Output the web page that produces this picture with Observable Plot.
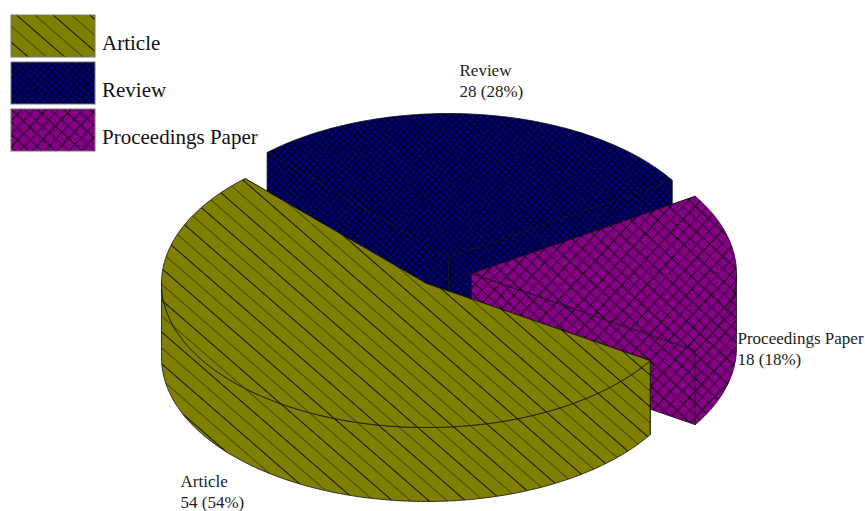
<!DOCTYPE html>
<html>
<head>
<meta charset="utf-8">
<style>
  html, body { margin: 0; padding: 0; background: #fff; }
  svg { display: block; }
</style>
<script src="https://cdn.jsdelivr.net/npm/d3@7"></script>
<script src="https://cdn.jsdelivr.net/npm/@observablehq/plot@0.6"></script>
</head>
<body>
<div id="chart"></div>
<script>
// Document types and their record counts
const categories = ["Article", "Review", "Proceedings Paper"];
const counts = [54, 28, 18];
const patternIds = ["hatch-article", "hatch-review", "hatch-proceedings"];

// Pie layout: exploded slice centres, ellipse radii, extrusion depth, start angle
const sliceCentersX = [426, 448, 471];
const sliceCentersY = [283, 257, 273];
const radiusX = 265;
const radiusY = 144;
const depth = 74;
const startAngle = -32.4;

// Stacking order of the slices, back to front
const paintOrder = [1, 2, 0];

const total = d3.sum(counts);
const cumulative = d3.cumsum(counts);

function point(i, angle, drop = 0) {
  const t = angle * Math.PI / 180;
  return {
    x: sliceCentersX[i] + radiusX * Math.cos(t),
    y: sliceCentersY[i] - radiusY * Math.sin(t) + drop
  };
}

function arc(i, a0, a1, drop = 0) {
  const n = Math.max(2, Math.ceil(Math.abs(a1 - a0)));
  return d3.range(n + 1).map((k) => point(i, a0 + (a1 - a0) * k / n, drop));
}

// Polygons of one slice: cut walls, visible rim wall, then the top face
function slicePolygons(i) {
  const a0 = startAngle - (cumulative[i] - counts[i]) / total * 360;
  const a1 = startAngle - cumulative[i] / total * 360;
  const apex = { x: sliceCentersX[i], y: sliceCentersY[i] };
  const apexLow = { x: apex.x, y: apex.y + depth };
  const polygons = [];
  for (const a of [a0, a1]) {
    const top = point(i, a), low = point(i, a, depth);
    polygons.push([apex, top, low, apexLow, apex]);
  }
  // The rim shows only where the ellipse faces the viewer (angles in [-180, 0] mod 360)
  const lo = Math.min(a0, a1), hi = Math.max(a0, a1);
  for (let k = -1; k >= -3; k--) {
    const from = Math.max(lo, 360 * k + 180);
    const to = Math.min(hi, 360 * k + 360);
    if (from < to) {
      const upper = arc(i, from, to);
      const lower = arc(i, to, from, depth);
      polygons.push([...upper, ...lower, upper[0]]);
    }
  }
  const rim = arc(i, a0, a1);
  polygons.push([apex, ...rim, apex]);
  return polygons.flatMap((poly, part) => poly.map((p) => ({ ...p, part })));
}

// Legend swatches and labels
const legendRows = categories.map((name, i) => ({
  name, i,
  x1: 11, x2: 95,
  y1: 15 + i * 47, y2: 57 + i * 47,
  labelY: 43 + i * 47
}));

// Value labels beside the slices
const labelX = [180, 459, 737];
const labelY = [490, 79, 347];
const labels = categories.map((name, i) => ({
  x: labelX[i], y: labelY[i],
  text: `${name}\n${counts[i]} (${Math.round(counts[i] / total * 100)}%)`
}));

// Hatch fills: one diagonal family for articles, cross-hatching for the others
function hatchDefs() {
  const defs = d3.create("svg:defs");
  defs.html(`
    <pattern id="hatch-article" patternUnits="userSpaceOnUse" width="24" height="24" patternTransform="rotate(41)">
      <rect width="24" height="24" fill="#808000"/>
      <rect y="0" width="24" height="1" fill="#111100"/>
      <rect y="12" width="24" height="0.8" fill="#3a3a00"/>
    </pattern>
    <pattern id="hatch-review" patternUnits="userSpaceOnUse" width="5" height="5" patternTransform="rotate(41)">
      <rect width="5" height="5" fill="#00008c"/>
      <rect width="5" height="1.5" fill="#00001e"/>
      <rect width="1.5" height="5" fill="#00001e"/>
    </pattern>
    <pattern id="hatch-proceedings" patternUnits="userSpaceOnUse" width="18" height="18" patternTransform="rotate(43)">
      <rect width="18" height="18" fill="#860086"/>
      <rect y="0" width="18" height="1.1" fill="#180018"/>
      <rect y="9" width="18" height="0.9" fill="#300030"/>
      <rect x="0" width="1.1" height="18" fill="#180018"/>
      <rect x="9" width="0.9" height="18" fill="#300030"/>
    </pattern>`);
  return defs.node();
}

const serif = "Liberation Serif";

const chart = Plot.plot({
  width: 865,
  height: 511,
  margin: 0,
  x: { domain: [0, 865], range: [0, 865], axis: null },
  y: { domain: [0, 511], range: [0, 511], axis: null },
  marks: [
    hatchDefs,
    ...paintOrder.map((i) =>
      Plot.line(slicePolygons(i), {
        x: "x", y: "y", z: "part",
        fill: `url(#${patternIds[i]})`,
        stroke: "#111",
        strokeWidth: 0.8,
        strokeLinejoin: "miter"
      })
    ),
    ...legendRows.map((r) =>
      Plot.rect([r], {
        x1: "x1", x2: "x2", y1: "y1", y2: "y2",
        fill: `url(#${patternIds[r.i]})`,
        stroke: "#777",
        strokeWidth: 1
      })
    ),
    Plot.text(legendRows, {
      x: () => 101.5, y: "labelY", text: "name",
      textAnchor: "start", fontFamily: serif, fontSize: 21, fill: "#111"
    }),
    Plot.text(labels, {
      x: "x", y: "y", text: "text",
      textAnchor: "start", fontFamily: serif, fontSize: 17, lineHeight: 1.25, fill: "#222"
    })
  ]
});

document.getElementById("chart").append(chart);
</script>
</body>
</html>
